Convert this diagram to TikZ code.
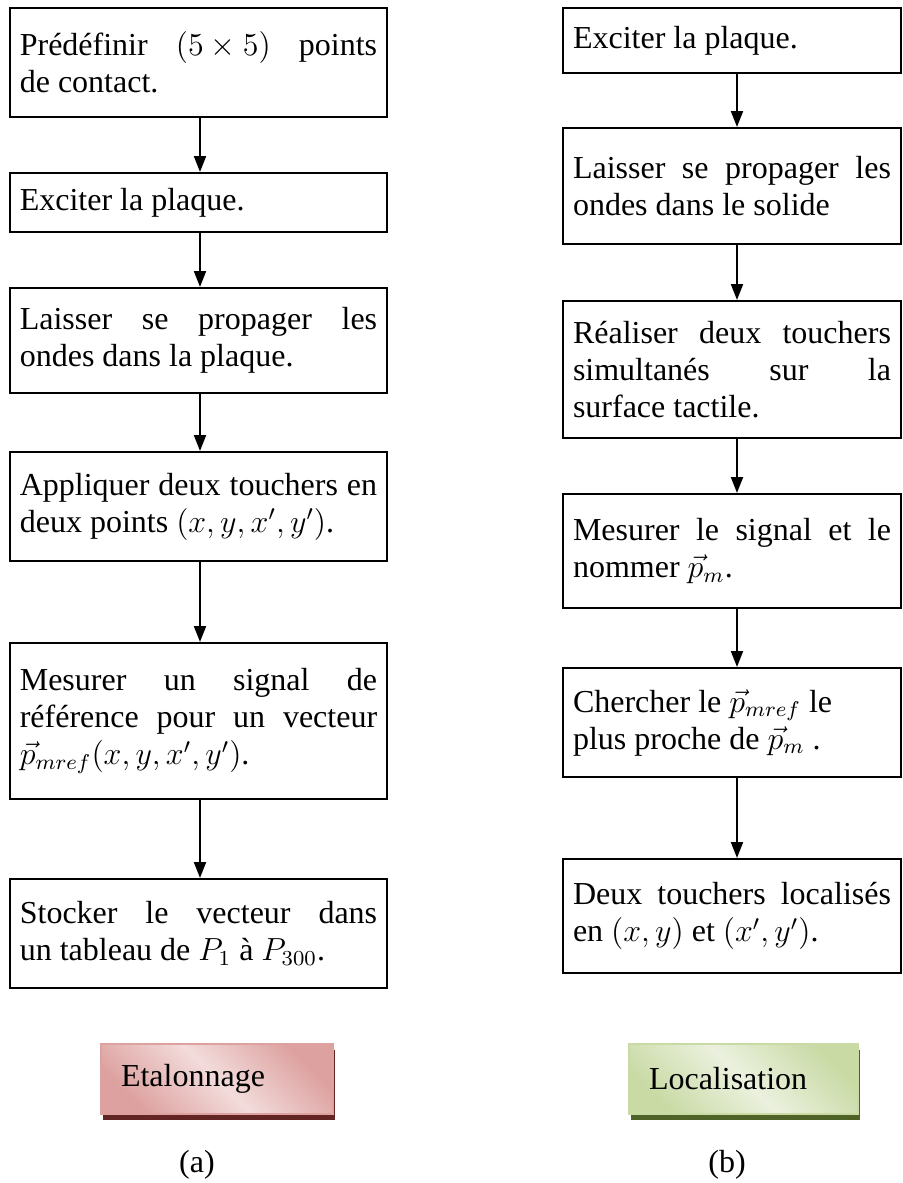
\documentclass[tikz,border=0pt]{standalone}
\usepackage{amsmath,amssymb}
\usepackage{fontspec}
\setmainfont{Liberation Serif}
\usepackage{xcolor}
\usepackage{tikz}
\usetikzlibrary{arrows.meta,shadows}

\definecolor{etaldark}{HTML}{D99694}
\definecolor{etallight}{HTML}{F2DCDB}
\definecolor{etalshadow}{HTML}{632523}
\definecolor{locdark}{HTML}{C3D69B}
\definecolor{loclight}{HTML}{EBF1DE}
\definecolor{locshadow}{HTML}{4F6228}

\begin{document}
\begin{tikzpicture}[x=0.375pt, y=-0.375pt,
    stepbox/.style={draw, line width=0.75pt, align=justify, anchor=north,
        inner xsep=3.75pt, inner ysep=0pt,
        font=\fontsize{12}{13.875}\selectfont},
    leftbox/.style={stepbox, text width=134pt},
    rightbox/.style={stepbox, text width=119.25pt},
    boxh/.style={minimum height=#1*0.375pt},
    flow/.style={line width=0.75pt, -{Triangle[length=6pt,width=4.5pt]}},
    button/.style={anchor=north west, align=left, inner xsep=7.5pt,
        minimum height=26.25pt, line width=0.75pt,
        font=\fontsize{12}{13.875}\selectfont},
    caption/.style={font=\fontsize{12}{13.875}\selectfont}]

    \useasboundingbox (0,0) rectangle (902,1183);

    % --- Left column: Etalonnage ---
    \node[leftbox, boxh=109] (l1) at (198.5,7)
        {Prédéfinir \mbox{$(5\times5)$} points \linebreak de contact.};
    \node[leftbox, boxh=59] (l2) at (198.5,172) {Exciter la plaque.};
    \node[leftbox, boxh=105] (l3) at (198.5,287)
        {Laisser se propager les \linebreak ondes dans la plaque.};
    \node[leftbox, boxh=109] (l4) at (198.5,451)
        {Appliquer deux touchers en \linebreak deux points \mbox{$(x,y,x',y')$}.};
    \node[leftbox, boxh=156] (l5) at (198.5,642)
        {Mesurer un signal de \linebreak référence pour un vecteur \linebreak
         \mbox{$\vec{p}_{mref}(x,y,x',y')$}.};
    \node[leftbox, boxh=109] (l6) at (198.5,878)
        {Stocker le vecteur dans \linebreak un tableau de $P_1$ à $P_{300}$.};

    % --- Right column: Localisation ---
    \node[rightbox, boxh=65] (r1) at (732,7) {Exciter la plaque.};
    \node[rightbox, boxh=116] (r2) at (732,127)
        {Laisser se propager les \linebreak ondes dans le solide};
    \node[rightbox, boxh=137] (r3) at (732,300)
        {Réaliser deux touchers \linebreak simultanés sur la \linebreak surface tactile.};
    \node[rightbox, boxh=114] (r4) at (732,493)
        {Mesurer le signal et le \linebreak nommer $\vec{p}_m$.};
    \node[rightbox, boxh=109] (r5) at (732,667)
        {Chercher le $\vec{p}_{mref}$ le\\ plus proche de $\vec{p}_m$ .};
    \node[rightbox, boxh=114] (r6) at (732,858)
        {Deux touchers localisés \linebreak en \mbox{$(x,y)$} et \mbox{$(x',y')$}.};

    % --- Arrows ---
    \coordinate (axl) at (200,0);
    \coordinate (axr) at (737,0);
    \foreach \a/\b in {l1/l2,l2/l3,l3/l4,l4/l5,l5/l6} {
        \draw[flow] (\a.south -| axl) -- (\b.north -| axl);
    }
    \foreach \a/\b in {r1/r2,r2/r3,r3/r4,r4/r5,r5/r6} {
        \draw[flow] (\a.south -| axr) -- (\b.north -| axr);
    }

    % --- Titles ---
    \node[button, text width=72pt, draw=etaldark!85!etallight,
        left color=etaldark!85!etallight, right color=etaldark!85!etallight,
        middle color=etallight, shading angle=135,
        drop shadow={shadow xshift=0.75pt, shadow yshift=-2.25pt,
            fill=etalshadow, opacity=1}] (etal) at (100,1043) {Etalonnage};
    \node[button, text width=70.9pt, draw=locdark!85!loclight,
        left color=locdark!85!loclight, right color=locdark!85!loclight,
        middle color=loclight, shading angle=135,
        drop shadow={shadow xshift=0.75pt, shadow yshift=-2.25pt,
            fill=locshadow, opacity=1}] (loc) at (628,1043) {Localisation};

    \node[caption] (capa) at (197,1165) {(a)};
    \node[caption] (capb) at (727,1165) {(b)};

\end{tikzpicture}
\end{document}
